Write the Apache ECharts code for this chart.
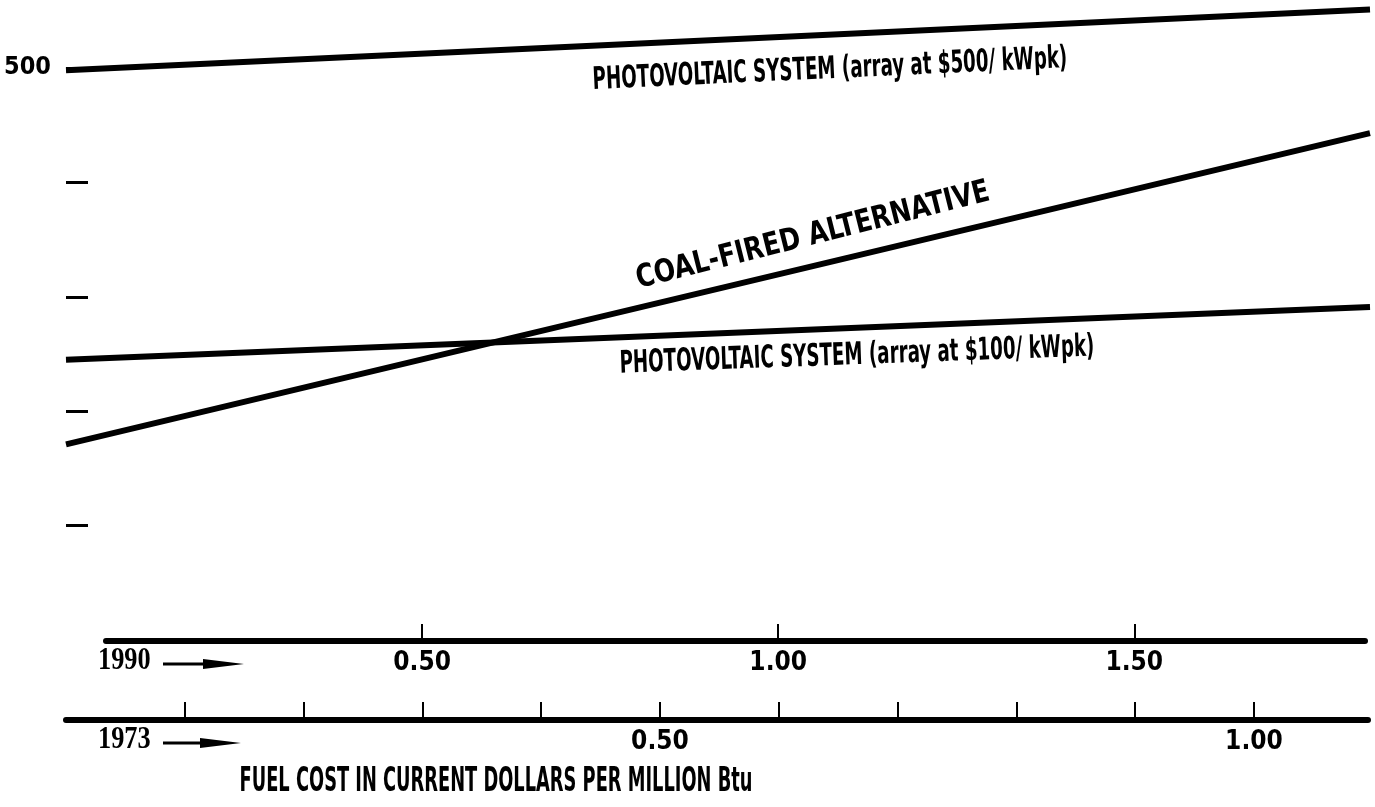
<!DOCTYPE html>
<html>
<head>
<meta charset="UTF-8">
<title>fuel cost</title>
<style>
    * { margin: 0; padding: 0 }
    #chart { width: 1375px; height: 807px; }
</style>
</head>
<body>
<div id="chart"></div>
<script src="https://cdn.jsdelivr.net/npm/echarts@6/dist/echarts.min.js"></script>
<script>
    // ends of each straight line, x in 1990 fuel cost ($ per million Btu)
    var fuel1990 = [0, 1.83];
    var pv500 = [498, 551];
    var coal = [171, 443];
    var pv100 = [245, 291];

    // axis ticks / labels
    var yTicks = [100, 200, 300, 400, 500];
    var yLabels = [500];
    var ticks1990 = [0.5, 1.0, 1.5];
    var ticks1973 = [0.1, 0.2, 0.3, 0.4, 0.5, 0.6, 0.7, 0.8, 0.9, 1.0];
    var labels1973 = [0.5, 1.0];

    var FONT = "'Liberation Sans Narrow', 'DejaVu Sans Condensed', sans-serif";
    var SERIF = "'Liberation Serif', serif";

    function pairs(ys) {
        return fuel1990.map(function (x, i) { return [x, ys[i]]; });
    }
    function money(v) { return v.toFixed(2); }

    var chart = echarts.init(document.getElementById('chart'));

    var lineSeries = function (name, ys) {
        return {
            name: name, type: 'line', xAxisIndex: 0, yAxisIndex: 0,
            data: pairs(ys), symbol: 'none', silent: true, animation: false,
            lineStyle: {color: '#000', width: 6}
        };
    };

    // squeezed text (the original lettering is tall and narrow)
    var label = function (txt, x, y, size, rot, sx, sy) {
        return {
            type: 'text', x: x, y: y, rotation: rot || 0, scaleX: sx || 1, scaleY: sy || 1,
            style: {text: txt, font: 'bold ' + size + 'px ' + FONT, fill: '#000',
                align: 'center', verticalAlign: 'middle'}
        };
    };

    var axisText = {fontFamily: FONT, fontSize: 26, fontWeight: 'bold', color: '#000'};

    var option = {
        backgroundColor: '#fff',
        grid: [
            {left: 66, right: 5, top: 5, bottom: 167},
            {left: 106, right: 10, top: 600, bottom: 166},
            {left: 66, right: 7, top: 680, bottom: 87}
        ],
        xAxis: [
            {gridIndex: 0, type: 'value', min: 0, max: 1.83, show: false},
            {
                gridIndex: 1, type: 'value', min: 0.056, max: 1.824,
                axisLine: {lineStyle: {color: '#000', width: 6}},
                axisTick: {inside: true, length: 17, customValues: ticks1990, lineStyle: {color: '#000', width: 2}},
                axisLabel: Object.assign({customValues: ticks1990, formatter: money, margin: 9}, axisText),
                splitLine: {show: false}
            },
            {
                gridIndex: 2, type: 'value', min: 0, max: 1.096,
                axisLine: {lineStyle: {color: '#000', width: 6}},
                axisTick: {inside: true, length: 18, customValues: ticks1973, lineStyle: {color: '#000', width: 2}},
                axisLabel: Object.assign({customValues: labels1973, formatter: money, margin: 9}, axisText),
                splitLine: {show: false}
            }
        ],
        yAxis: [
            {
                gridIndex: 0, type: 'value', min: 0, max: 555,
                axisLine: {show: false},
                axisTick: {inside: true, length: 22, customValues: yTicks, lineStyle: {color: '#000', width: 3}},
                axisLabel: Object.assign({customValues: yLabels, margin: 15}, axisText, {fontSize: 25}),
                splitLine: {show: false}
            },
            {gridIndex: 1, type: 'value', show: false},
            {gridIndex: 2, type: 'value', show: false}
        ],
        series: [
            lineSeries('PV $500', pv500),
            lineSeries('Coal', coal),
            lineSeries('PV $100', pv100)
        ],
        graphic: [
            label('PHOTOVOLTAIC SYSTEM (array at $500/ kWpk)', 830, 70, 26, 0.046, 0.78, 1.2),
            label('COAL-FIRED ALTERNATIVE', 813, 236, 30, 0.245, 0.93, 1.05),
            label('PHOTOVOLTAIC SYSTEM (array at $100/ kWpk)', 857, 356, 26, 0.036, 0.78, 1.2),
            label('FUEL COST IN CURRENT DOLLARS PER MILLION Btu', 496, 782, 30, 0, 0.66, 1.15),
            // year markers under the two scales
            {type: 'text', x: 98, y: 661, scaleX: 0.85, style: {
                text: '1990', font: 'bold 31px ' + SERIF, fill: '#000', verticalAlign: 'middle'}},
            {type: 'line', shape: {x1: 163, y1: 664, x2: 215, y2: 664}, style: {stroke: '#000', lineWidth: 3}},
            {type: 'polygon', shape: {points: [[203, 659], [244, 664], [203, 669]]}, style: {fill: '#000'}},
            {type: 'text', x: 98, y: 740, scaleX: 0.85, style: {
                text: '1973', font: 'bold 31px ' + SERIF, fill: '#000', verticalAlign: 'middle'}},
            {type: 'line', shape: {x1: 163, y1: 743, x2: 212, y2: 743}, style: {stroke: '#000', lineWidth: 3}},
            {type: 'polygon', shape: {points: [[200, 738], [241, 743], [200, 748]]}, style: {fill: '#000'}}
        ]
    };

    chart.setOption(option);
</script>
</body>
</html>
